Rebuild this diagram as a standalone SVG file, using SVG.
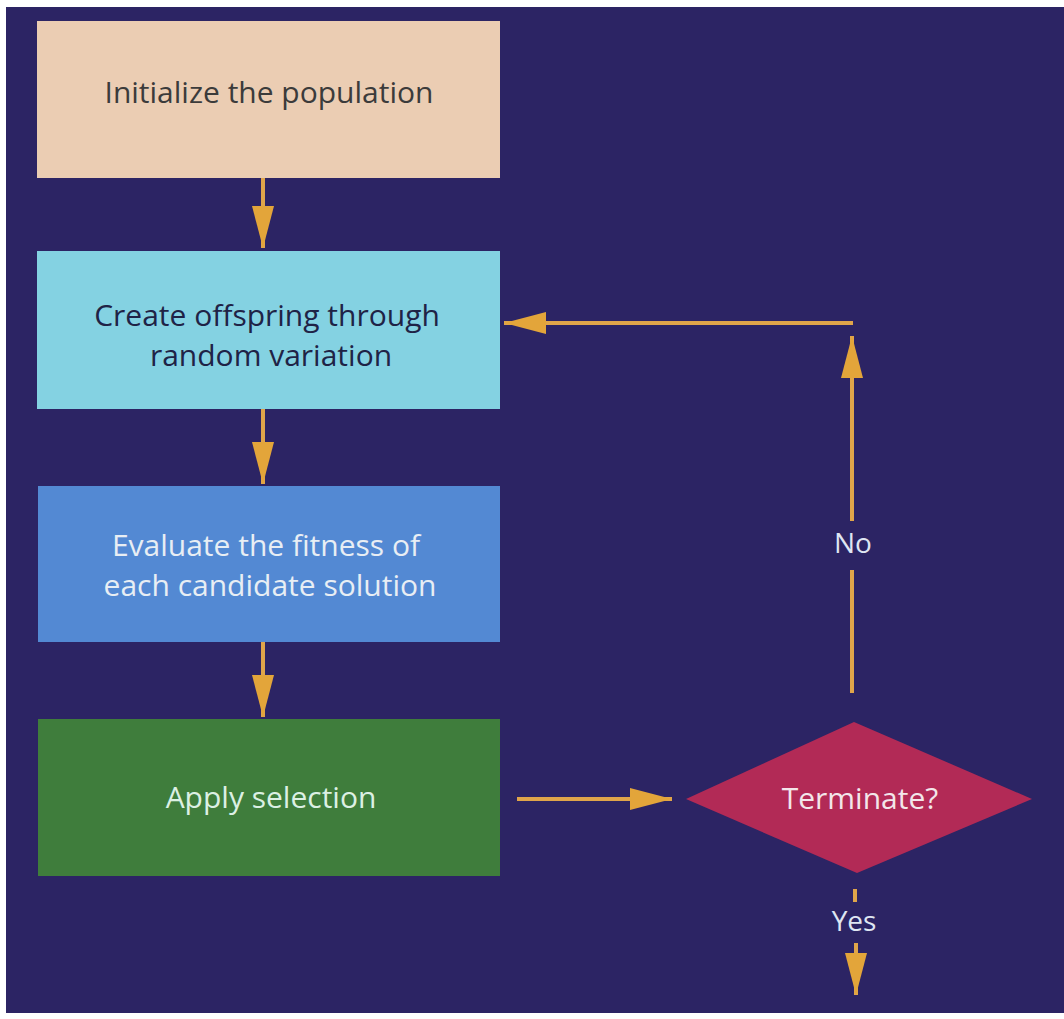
<svg xmlns="http://www.w3.org/2000/svg" width="1064" height="1019" viewBox="0 0 1064 1019">
  <defs>
    <marker id="head" markerUnits="userSpaceOnUse" markerWidth="42" markerHeight="22" viewBox="0 0 42 22" refX="42" refY="11" orient="auto">
      <path d="M0,0 L42,11 L0,22 z" fill="#e3a53a"/>
    </marker>
  </defs>
  <style>
    text { font-family: "Open Sans", "Noto Sans", "DejaVu Sans", sans-serif; font-size: 30px; text-anchor: middle; }
    .edge { fill: none; stroke: #e0a54a; stroke-width: 4; }
    .lbl { font-size: 28px; fill: #dfe6f2; }
  </style>

  <!-- page and panel -->
  <rect x="0" y="0" width="1064" height="1019" fill="#ffffff"/>
  <rect x="6" y="7" width="1058" height="1006" fill="#2c2464"/>

  <g id="init">
    <rect x="37" y="21" width="463" height="157" fill="#ebcdb3"/>
    <text x="269" y="103" fill="#3b3b3b">Initialize the population</text>
  </g>

  <g id="offspring">
    <rect x="37" y="251" width="463" height="158" fill="#84d2e2"/>
    <text x="267" y="326" fill="#1f2346">Create offspring through</text>
    <text x="271" y="366" fill="#1f2346">random variation</text>
  </g>

  <g id="evaluate">
    <rect x="38" y="486" width="462" height="156" fill="#5389d3"/>
    <text x="266" y="556" fill="#e8eef4">Evaluate the fitness of</text>
    <text x="270" y="596" fill="#e8eef4">each candidate solution</text>
  </g>

  <g id="select">
    <rect x="38" y="719" width="462" height="157" fill="#3f7d3c"/>
    <text x="271" y="808" fill="#dcf0e4">Apply selection</text>
  </g>

  <g id="terminate">
    <polygon points="686,799 854,722 1032,799 857,873" fill="#b22a56"/>
    <text x="860" y="809" fill="#f3e6ea">Terminate?</text>
  </g>

  <g id="connectors">
    <line class="edge" x1="263" y1="178" x2="263" y2="248" marker-end="url(#head)"/>
    <line class="edge" x1="263" y1="409" x2="263" y2="484" marker-end="url(#head)"/>
    <line class="edge" x1="263" y1="642" x2="263" y2="717" marker-end="url(#head)"/>
    <line class="edge" x1="517" y1="799" x2="672" y2="799" marker-end="url(#head)"/>
    <!-- "No" branch back to offspring creation -->
    <line class="edge" x1="852" y1="693" x2="852" y2="570"/>
    <line class="edge" x1="852" y1="521" x2="852" y2="336" marker-end="url(#head)"/>
    <line class="edge" x1="853" y1="323" x2="504" y2="323" marker-end="url(#head)"/>
    <text class="lbl" x="853" y="553">No</text>
    <!-- "Yes" exit -->
    <line class="edge" x1="855" y1="889" x2="855" y2="902"/>
    <line class="edge" x1="856" y1="943" x2="856" y2="995" marker-end="url(#head)"/>
    <text class="lbl" x="854" y="931">Yes</text>
  </g>
</svg>
